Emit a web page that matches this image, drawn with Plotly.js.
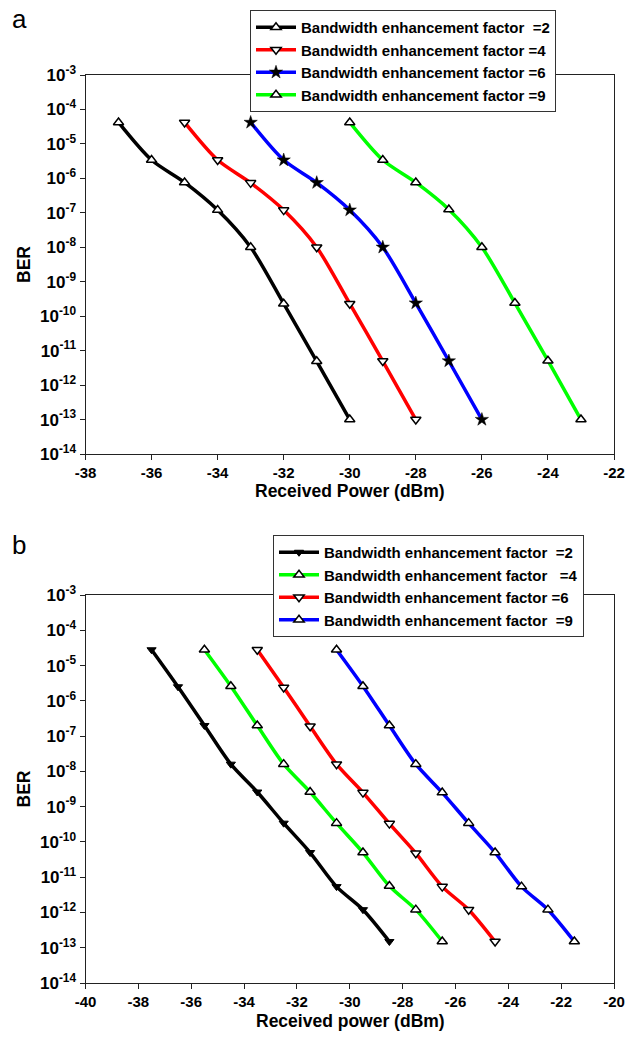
<!DOCTYPE html>
<html>
<head>
<meta charset="utf-8">
<script src="https://cdn.plot.ly/plotly-3.0.1.min.js"></script>
<style>html,body{margin:0;padding:0;background:#fff;}#chart{width:638px;height:1048px;}</style>
</head>
<body>
<div id="chart"></div>
<script>
// ---- Panel a data ----
const seriesNamesA = ['Bandwidth enhancement factor  =2','Bandwidth enhancement factor =4','Bandwidth enhancement factor =6','Bandwidth enhancement factor =9'];
const powerA_f2 = [-37,-36,-35,-34,-33,-32,-31,-30];
const powerA_f4 = [-35,-34,-33,-32,-31,-30,-29,-28];
const powerA_f6 = [-33,-32,-31,-30,-29,-28,-27,-26];
const powerA_f9 = [-30,-29,-28,-27,-26,-25,-24,-23];
const berA_f2 = [4.2e-5,3.4e-6,7.6e-7,1.2e-7,1.0e-8,2.3e-10,4.9e-12,1.0e-13];
const berA_f4 = [4.2e-5,3.4e-6,7.4e-7,1.2e-7,1.0e-8,2.3e-10,5.0e-12,1.0e-13];
const berA_f6 = [4.2e-5,3.4e-6,7.5e-7,1.2e-7,1.0e-8,2.4e-10,5.0e-12,1.0e-13];
const berA_f9 = [4.2e-5,3.4e-6,7.6e-7,1.25e-7,1.0e-8,2.4e-10,5.1e-12,1.0e-13];

// ---- Panel b data ----
const seriesNamesB = ['Bandwidth enhancement factor  =2','Bandwidth enhancement factor   =4','Bandwidth enhancement factor =6','Bandwidth enhancement factor  =9'];
const powerB_f2 = [-37.5,-36.5,-35.5,-34.5,-33.5,-32.5,-31.5,-30.5,-29.5,-28.5];
const powerB_f4 = [-35.5,-34.5,-33.5,-32.5,-31.5,-30.5,-29.5,-28.5,-27.5,-26.5];
const powerB_f6 = [-33.5,-32.5,-31.5,-30.5,-29.5,-28.5,-27.5,-26.5,-25.5,-24.5];
const powerB_f9 = [-30.5,-29.5,-28.5,-27.5,-26.5,-25.5,-24.5,-23.5,-22.5,-21.5];
const berB_f2 = [2.8e-5,2.5e-6,2.0e-7,1.6e-8,2.6e-9,3.4e-10,5.0e-11,5.4e-12,1.2e-12,1.5e-13];
const berB_f4 = [2.8e-5,2.6e-6,2.0e-7,1.6e-8,2.6e-9,3.4e-10,5.0e-11,5.6e-12,1.2e-12,1.5e-13];
const berB_f6 = [2.8e-5,2.4e-6,1.9e-7,1.6e-8,2.5e-9,3.3e-10,4.8e-11,5.4e-12,1.2e-12,1.5e-13];
const berB_f9 = [2.8e-5,2.6e-6,2.0e-7,1.6e-8,2.5e-9,3.4e-10,5.0e-11,5.4e-12,1.2e-12,1.5e-13];

// ---- Tick labels and titles ----
const xTicksA = [-38,-36,-34,-32,-30,-28,-26,-24,-22];
const xTickTextA = ['-38','-36','-34','-32','-30','-28','-26','-24','-22'];
const xTicksB = [-40,-38,-36,-34,-32,-30,-28,-26,-24,-22,-20];
const xTickTextB = ['-40','-38','-36','-34','-32','-30','-28','-26','-24','-22','-20'];
const yTickVals = [1e-3,1e-4,1e-5,1e-6,1e-7,1e-8,1e-9,1e-10,1e-11,1e-12,1e-13,1e-14];
const yTickExp = ['-3','-4','-5','-6','-7','-8','-9','-10','-11','-12','-13','-14'];
const xTitleA = 'Received Power (dBm)';
const xTitleB = 'Received power (dBm)';

const FONT = 'Liberation Sans, Arial, sans-serif';
const W = 638, H = 1048;

function tr(x, y, name, color, symbol, mfill, msize, mlw, xa, ya, leg) {
  return {
    x: x, y: y, name: name, type: 'scatter', mode: 'lines+markers',
    xaxis: xa, yaxis: ya, legend: leg,
    line: {color: color, width: 3.5, shape: 'spline', smoothing: 0.8},
    marker: {symbol: symbol, size: msize, color: mfill, line: {color: '#000', width: mlw}}
  };
}

const data = [
  tr(powerA_f2, berA_f2, seriesNamesA[0], '#000000', 'triangle-up', '#ffffff', 9, 1.5, 'x', 'y', 'legend'),
  tr(powerA_f4, berA_f4, seriesNamesA[1], '#ff0000', 'triangle-down', '#ffffff', 9, 1.5, 'x', 'y', 'legend'),
  tr(powerA_f6, berA_f6, seriesNamesA[2], '#0000ff', 'star', '#000000', 10, 0.5, 'x', 'y', 'legend'),
  tr(powerA_f9, berA_f9, seriesNamesA[3], '#00ff00', 'triangle-up', '#ffffff', 9, 1.5, 'x', 'y', 'legend'),
  tr(powerB_f2, berB_f2, seriesNamesB[0], '#000000', 'triangle-down', '#000000', 8, 1, 'x2', 'y2', 'legend2'),
  tr(powerB_f4, berB_f4, seriesNamesB[1], '#00ff00', 'triangle-up', '#ffffff', 9, 1.5, 'x2', 'y2', 'legend2'),
  tr(powerB_f6, berB_f6, seriesNamesB[2], '#ff0000', 'triangle-down', '#ffffff', 9, 1.5, 'x2', 'y2', 'legend2'),
  tr(powerB_f9, berB_f9, seriesNamesB[3], '#0000ff', 'triangle-up', '#ffffff', 9, 1.5, 'x2', 'y2', 'legend2')
];

const titleFont = {family: FONT, size: 17.5, color: '#000', weight: 'bold'};

function xAxis(range, tv, tt, anchor, domain) {
  return {
    type: 'linear', range: range, domain: domain, anchor: anchor,
    tickmode: 'array', tickvals: tv, ticktext: tt,
    ticks: 'outside', ticklen: 5, tickwidth: 1, tickcolor: '#222',
    showline: true, linecolor: '#222', linewidth: 1, mirror: true,
    showgrid: false, zeroline: false,
    tickfont: {family: 'Liberation Sans', size: 15, color: '#000', weight: 700}
  };
}
function yAxis(anchor, domain) {
  return {
    type: 'log', range: [-14, -3], domain: domain, anchor: anchor,
    tickmode: 'array', tickvals: yTickVals,
    ticktext: yTickExp.map(function (e) { return '10<sup>' + e + '</sup>'; }),
    ticks: 'outside', ticklen: 5, tickwidth: 1, tickcolor: '#222',
    showline: true, linecolor: '#222', linewidth: 1, mirror: true,
    showgrid: false, zeroline: false,
    tickfont: {family: 'Liberation Sans', size: 17, color: '#000', weight: 700},
    title: {text: 'BER', font: titleFont, standoff: 4}
  };
}

const legFont = {family: FONT, size: 15, color: '#000', weight: 'bold'};

const layout = {
  width: W, height: H,
  margin: {l: 0, r: 0, t: 0, b: 0},
  paper_bgcolor: '#fff', plot_bgcolor: '#fff',
  showlegend: true,
  xaxis: xAxis([-38, -22], xTicksA, xTickTextA, 'y', [85.5/W, 614/W]),
  yaxis: yAxis('x', [1 - 454/H, 1 - 75/H]),
  xaxis2: xAxis([-40, -20], xTicksB, xTickTextB, 'y2', [85.5/W, 614/W]),
  yaxis2: yAxis('x2', [1 - 983/H, 1 - 595/H]),
  legend: {
    x: 250/W, y: 1 - 10/H, xanchor: 'left', yanchor: 'top',
    bgcolor: '#fff', bordercolor: '#333', borderwidth: 1,
    font: legFont, tracegroupgap: 0, itemwidth: 40
  },
  legend2: {
    x: 273/W, y: 1 - 535/H, xanchor: 'left', yanchor: 'top',
    bgcolor: '#fff', bordercolor: '#333', borderwidth: 1,
    font: legFont, tracegroupgap: 0, itemwidth: 40
  },
  annotations: [
    {text: 'a', xref: 'paper', yref: 'paper', x: 10/W, y: 1 - 2/H, xanchor: 'left', yanchor: 'top', showarrow: false, font: {family: FONT, size: 26, color: '#000'}},
    {text: 'b', xref: 'paper', yref: 'paper', x: 10/W, y: 1 - 528/H, xanchor: 'left', yanchor: 'top', showarrow: false, font: {family: FONT, size: 26, color: '#000'}},
    {text: xTitleA, xref: 'paper', yref: 'paper', x: 350/W, y: 1 - 491/H, xanchor: 'center', yanchor: 'middle', showarrow: false, font: titleFont},
    {text: xTitleB, xref: 'paper', yref: 'paper', x: 350/W, y: 1 - 1021/H, xanchor: 'center', yanchor: 'middle', showarrow: false, font: titleFont}
  ]
};

Plotly.newPlot('chart', data, layout, {displayModeBar: false, staticPlot: true});
</script>
</body>
</html>
